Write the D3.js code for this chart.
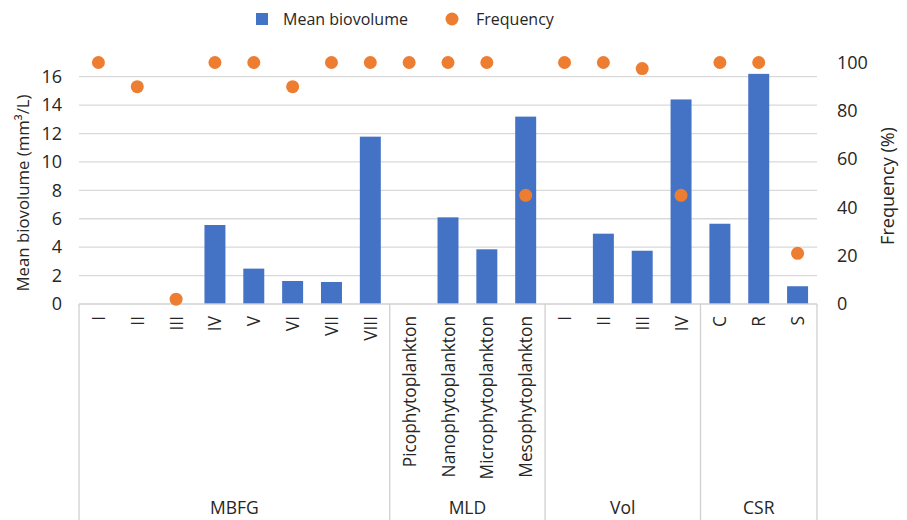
<!DOCTYPE html>
<html><head><meta charset="utf-8">
<script src="https://cdn.jsdelivr.net/npm/d3@7"></script>
<style>body{margin:0;background:#fff}svg{display:block}text{font-family:"Open Sans",sans-serif;fill:#262626}</style>
</head><body><svg id="c" width="907" height="520"></svg>
<script>
const categories = ["I","II","III","IV","V","VI","VII","VIII","Picophytoplankton","Nanophytoplankton","Microphytoplankton","Mesophytoplankton","I","II","III","IV","C","R","S"];
const groups = ["MBFG","MBFG","MBFG","MBFG","MBFG","MBFG","MBFG","MBFG","MLD","MLD","MLD","MLD","Vol","Vol","Vol","Vol","CSR","CSR","CSR"];
const meanBiovolume = [0,0,0,5.56,2.49,1.62,1.55,11.78,0,6.1,3.85,13.19,0,4.95,3.75,14.4,5.65,16.2,1.25];
const frequency = [100,90,2,100,100,90,100,100,100,100,100,45,100,100,97.5,45,100,100,21];
const leftTicks = [0,2,4,6,8,10,12,14,16];
const rightTicks = [0,20,40,60,80,100];

const svg = d3.select("#c");
const L = 79, R = 817, T = 62.5, B = 304;
const keys = categories.map((c,i)=>i);
const x = d3.scaleBand().domain(keys).range([L,R]).paddingInner(0.46).paddingOuter(0.23);
const xb = d3.scaleBand().domain(keys).range([L,R]);
const y = d3.scaleLinear().domain([0,17]).range([B,T]);
const y2 = d3.scaleLinear().domain([0,100]).range([B,T]);

// gridlines
svg.append("g").selectAll("line").data(leftTicks.slice(1)).join("line")
  .attr("x1",L).attr("x2",R).attr("y1",d=>y(d)).attr("y2",d=>y(d))
  .attr("stroke","#d9d9d9").attr("stroke-width",1.3);

// axes labels
const ga = svg.append("g").attr("transform",`translate(${L},0)`)
  .call(d3.axisLeft(y).tickValues(leftTicks).tickSize(0).tickPadding(17));
ga.select(".domain").remove();
ga.selectAll("text").style("font-size","18px").attr("fill","#262626").style("font-family","'Open Sans',sans-serif");
const gb = svg.append("g").attr("transform",`translate(${R},0)`)
  .call(d3.axisRight(y2).tickValues(rightTicks).tickSize(0).tickPadding(20));
gb.select(".domain").remove();
gb.selectAll("text").style("font-size","18px").attr("fill","#262626").style("font-family","'Open Sans',sans-serif");

// bars
svg.append("g").selectAll("rect").data(meanBiovolume).join("rect")
  .attr("x",(d,i)=>x(i)).attr("width",x.bandwidth())
  .attr("y",d=>y(d)).attr("height",d=>B-y(d)).attr("fill","#4472c4");

// baseline
svg.append("line").attr("x1",L).attr("x2",R).attr("y1",B).attr("y2",B).attr("stroke","#d0d0d0").attr("stroke-width",1.3);

// group separators
const grpNames = [...new Set(groups)];
const bounds = [0];
grpNames.forEach(g=>{ bounds.push(groups.lastIndexOf(g)+1); });
svg.append("g").selectAll("line").data(bounds).join("line")
  .attr("x1",d=>d===categories.length? R : xb(d)).attr("x2",d=>d===categories.length? R : xb(d))
  .attr("y1",B).attr("y2",520).attr("stroke","#d0d0d0").attr("stroke-width",1.3);

// group labels
svg.append("g").selectAll("text").data(grpNames).join("text")
  .attr("x",g=>{const a=groups.indexOf(g), b=groups.lastIndexOf(g)+1; return (xb(a)+(b===categories.length?R:xb(b)))/2;})
  .attr("y",514).attr("text-anchor","middle").style("font-size","17.5px").text(g=>g);

// category labels
svg.append("g").selectAll("text").data(categories).join("text")
  .attr("transform",(d,i)=>`translate(${xb(i)+xb.bandwidth()/2+6.5},316) rotate(-90)`)
  .attr("text-anchor","end").style("font-size","17.3px").text(d=>d);

// dots
svg.append("g").selectAll("circle").data(frequency).join("circle")
  .attr("cx",(d,i)=>xb(i)+xb.bandwidth()/2).attr("cy",d=>y2(d)).attr("r",6.5).attr("fill","#ed7d31");

// axis titles
svg.append("text").attr("transform","translate(29,193) rotate(-90)").attr("text-anchor","middle")
  .style("font-size","16.8px").text("Mean biovolume (mm³/L)");
svg.append("text").attr("transform","translate(894,186) rotate(-90)").attr("text-anchor","middle")
  .style("font-size","18px").text("Frequency (%)");

// legend
svg.append("rect").attr("x",256).attr("y",13).attr("width",12).attr("height",12).attr("fill","#4472c4");
svg.append("text").attr("x",283).attr("y",25).style("font-size","16px").text("Mean biovolume");
svg.append("circle").attr("cx",452).attr("cy",19).attr("r",6.5).attr("fill","#ed7d31");
svg.append("text").attr("x",476).attr("y",25).style("font-size","16px").text("Frequency");
</script></body></html>
